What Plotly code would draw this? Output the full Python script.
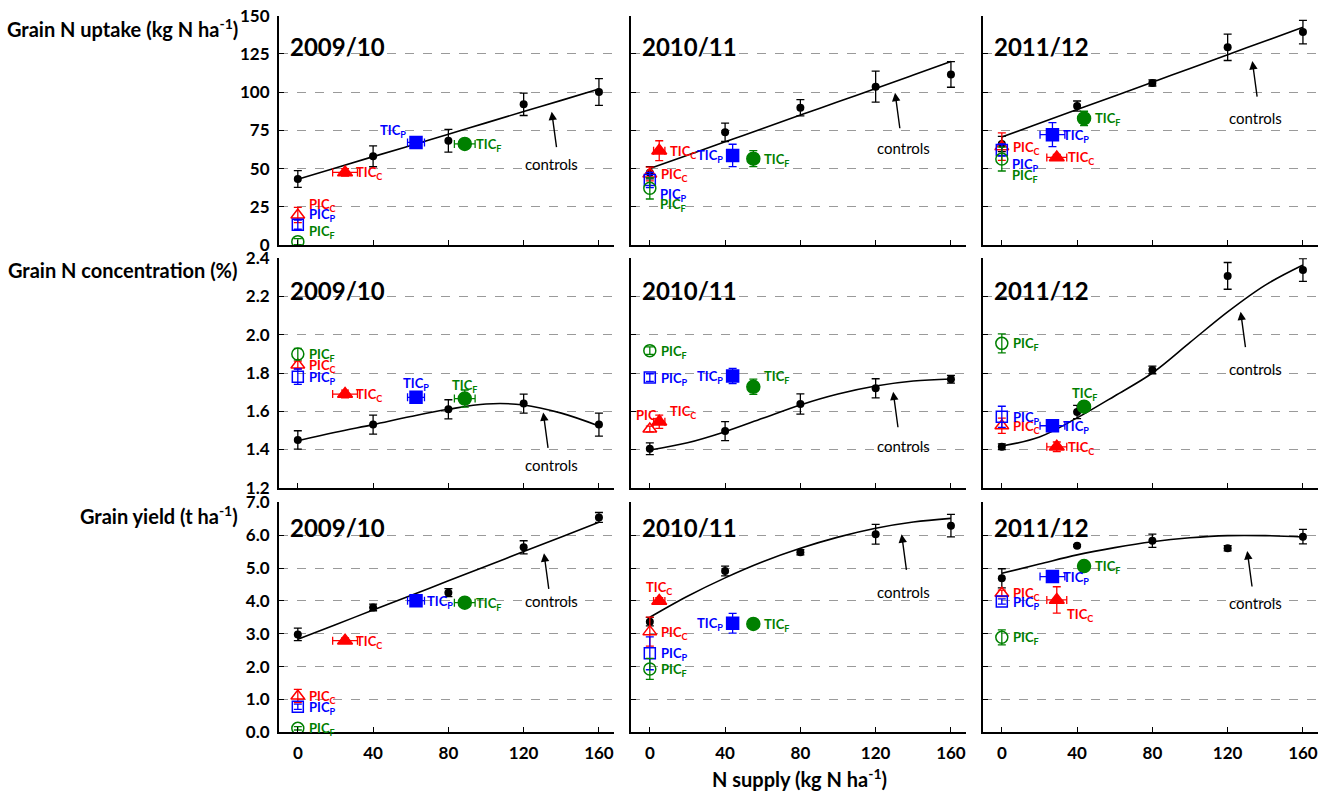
import plotly.graph_objects as go
from plotly.subplots import make_subplots

# ---------------------------------------------------------------- data
YEARS = ["2009/10", "2010/11", "2011/12"]
N_RATES = [0, 40, 80, 120, 160]
FIT_X = [0, 20, 40, 60, 80, 100, 120, 140, 160]
TREATMENTS = ["TIC<sub>C</sub>", "TIC<sub>P</sub>", "TIC<sub>F</sub>",
              "PIC<sub>C</sub>", "PIC<sub>P</sub>", "PIC<sub>F</sub>"]

# N supply of the intercrop treatments (same order as TREATMENTS)
trt_n_0910 = [25.1, 62.8, 88.7, 0, 0, 0]
trt_n_err_0910 = [6.6, 4.5, 5.5, 0, 0, 0]
trt_n_1011 = [5.0, 44.0, 55.0, 0, 0, 0]
trt_n_err_1011 = [3.0, 0, 2.0, 0, 0, 0]
trt_n_1112 = [29.2, 26.9, 43.7, 0, 0, 0]
trt_n_err_1112 = [5.3, 6.6, 1.2, 0, 0, 0]

# Grain N uptake (kg N/ha)
uptake_ctrl_0910 = [43.2, 58.0, 68.2, 92.0, 100.1]
uptake_ctrl_err_0910 = [5.5, 6.8, 7.5, 7.3, 8.7]
uptake_fit_0910 = [43.0, 50.4, 57.8, 65.1, 72.5, 79.9, 87.3, 94.6, 102.0]
uptake_trt_0910 = [47.5, 67.1, 66.1, 19.6, 13.3, 2.2]
uptake_trt_err_0910 = [2.5, 3.5, 3.0, 5.0, 3.0, 2.0]

uptake_ctrl_1011 = [47.3, 73.7, 89.8, 103.6, 111.6]
uptake_ctrl_err_1011 = [4.0, 6.0, 5.3, 10.2, 8.4]
uptake_fit_1011 = [50.0, 58.7, 67.5, 76.2, 85.0, 93.7, 102.4, 111.2, 120.0]
uptake_trt_1011 = [61.7, 58.6, 56.5, 46.5, 42.5, 37.1]
uptake_trt_err_1011 = [6.5, 7.3, 5.2, 4.5, 5.0, 7.0]

uptake_ctrl_1112 = [66.1, 90.9, 106.0, 129.3, 139.3]
uptake_ctrl_err_1112 = [5.0, 3.3, 2.0, 8.6, 7.7]
uptake_fit_1112 = [70.6, 79.6, 88.6, 97.5, 106.5, 115.5, 124.5, 133.4, 142.4]
uptake_trt_1112 = [57.3, 72.2, 82.8, 64.3, 62.1, 56.2]
uptake_trt_err_1112 = [2.0, 7.8, 4.7, 9.0, 4.0, 7.8]

# Grain N concentration (%)
conc_ctrl_0910 = [1.45, 1.53, 1.61, 1.64, 1.53]
conc_ctrl_err_0910 = [0.048, 0.05, 0.05, 0.05, 0.06]
conc_fit_0910 = [1.446, 1.49, 1.53, 1.572, 1.61, 1.638, 1.633, 1.59, 1.523]
conc_trt_0910 = [1.69, 1.673, 1.666, 1.842, 1.781, 1.899]
conc_trt_err_0910 = [0.02, 0.03, 0.045, 0.02, 0.04, 0.03]

conc_ctrl_1011 = [1.404, 1.496, 1.638, 1.72, 1.767]
conc_ctrl_err_1011 = [0.031, 0.05, 0.053, 0.05, 0.02]
conc_fit_1011 = [1.397, 1.435, 1.493, 1.563, 1.633, 1.69, 1.732, 1.758, 1.769]
conc_trt_1011 = [1.545, 1.784, 1.728, 1.507, 1.776, 1.917]
conc_trt_err_1011 = [0.035, 0.04, 0.04, 0.015, 0.02, 0.02]

conc_ctrl_1112 = [1.414, 1.596, 1.816, 2.308, 2.339]
conc_ctrl_err_1112 = [0.015, 0.035, 0.02, 0.07, 0.06]
conc_fit_1112 = [1.418, 1.465, 1.565, 1.68, 1.80, 1.96, 2.12, 2.26, 2.365]
conc_trt_1112 = [1.414, 1.524, 1.624, 1.524, 1.571, 1.955]
conc_trt_err_1112 = [0.025, 0.015, 0.02, 0.04, 0.055, 0.05]

# Grain yield (t/ha)
yield_ctrl_0910 = [2.98, 3.80, 4.25, 5.63, 6.54]
yield_ctrl_err_0910 = [0.19, 0.1, 0.12, 0.2, 0.15]
yield_fit_0910 = [2.83, 3.275, 3.72, 4.165, 4.61, 5.055, 5.5, 5.945, 6.39]
yield_trt_0910 = [2.79, 4.007, 3.946, 1.106, 0.78, 0.12]
yield_trt_err_0910 = [0.08, 0.05, 0.05, 0.2, 0.08, 0.05]

yield_ctrl_1011 = [3.368, 4.91, 5.478, 6.026, 6.29]
yield_ctrl_err_1011 = [0.13, 0.15, 0.08, 0.3, 0.34]
yield_fit_1011 = [3.50, 4.14, 4.70, 5.19, 5.60, 5.94, 6.21, 6.40, 6.51]
yield_trt_1011 = [3.997, 3.317, 3.297, 3.064, 2.404, 1.928]
yield_trt_err_1011 = [0.1, 0.3, 0.1, 0.44, 0.5, 0.32]

yield_ctrl_1112 = [4.687, 5.68, 5.83, 5.6, 5.955]
yield_ctrl_err_1112 = [0.29, 0.03, 0.2, 0.08, 0.22]
yield_fit_1112 = [4.84, 5.12, 5.40, 5.62, 5.80, 5.92, 5.985, 5.985, 5.945]
yield_trt_1112 = [4.03, 4.74, 5.06, 4.23, 3.98, 2.89]
yield_trt_err_1112 = [0.4, 0.15, 0.08, 0.1, 0.08, 0.23]

ROW_TITLES = ["Grain N uptake (kg N ha<sup>-1</sup>)",
              "Grain N concentration (%)",
              "Grain yield (t ha<sup>-1</sup>)"]
X_TITLE = "N supply (kg N ha<sup>-1</sup>)"

# ---------------------------------------------------------------- panels
TRT_N = [(trt_n_0910, trt_n_err_0910), (trt_n_1011, trt_n_err_1011),
         (trt_n_1112, trt_n_err_1112)]
PANELS = {
    (1, 1): (uptake_ctrl_0910, uptake_ctrl_err_0910, uptake_fit_0910, uptake_trt_0910, uptake_trt_err_0910),
    (1, 2): (uptake_ctrl_1011, uptake_ctrl_err_1011, uptake_fit_1011, uptake_trt_1011, uptake_trt_err_1011),
    (1, 3): (uptake_ctrl_1112, uptake_ctrl_err_1112, uptake_fit_1112, uptake_trt_1112, uptake_trt_err_1112),
    (2, 1): (conc_ctrl_0910, conc_ctrl_err_0910, conc_fit_0910, conc_trt_0910, conc_trt_err_0910),
    (2, 2): (conc_ctrl_1011, conc_ctrl_err_1011, conc_fit_1011, conc_trt_1011, conc_trt_err_1011),
    (2, 3): (conc_ctrl_1112, conc_ctrl_err_1112, conc_fit_1112, conc_trt_1112, conc_trt_err_1112),
    (3, 1): (yield_ctrl_0910, yield_ctrl_err_0910, yield_fit_0910, yield_trt_0910, yield_trt_err_0910),
    (3, 2): (yield_ctrl_1011, yield_ctrl_err_1011, yield_fit_1011, yield_trt_1011, yield_trt_err_1011),
    (3, 3): (yield_ctrl_1112, yield_ctrl_err_1112, yield_fit_1112, yield_trt_1112, yield_trt_err_1112),
}

RED, BLUE, GREEN = "#FF0000", "#0000FF", "#008000"
TRT_STYLE = [("triangle-up", RED, 13), ("square", BLUE, 12), ("circle", GREEN, 13),
             ("triangle-up-open", RED, 12), ("square-open", BLUE, 11), ("circle-open", GREEN, 12)]

# label placement relative to each marker
PLACE = {
    "r": dict(xanchor="left", xshift=9, yshift=-1),
    "l": dict(xanchor="right", xshift=-8, yshift=-1),
    "a": dict(xanchor="center", xshift=0, yshift=13),
    "ru": dict(xanchor="left", xshift=9, yshift=10),
    "lu": dict(xanchor="right", xshift=-8, yshift=11),
    "rd": dict(xanchor="left", xshift=8, yshift=-15),
    "rd2": dict(xanchor="left", xshift=8, yshift=-17),
}
LABEL_PLACE = {
    (1, 1): ["r", "lu", "r", "ru", "ru", "ru"],
    (1, 2): ["r", "l", "r", "r", "rd", "rd2"],
    (1, 3): ["r", "r", "r", "r", "rd", "rd2"],
    (2, 1): ["r", "a", "a", "r", "r", "r"],
    (2, 2): ["ru", "l", "ru", "a", "r", "r"],
    (2, 3): ["r", "r", "a", "r", "r", "r"],
    (3, 1): ["r", "r", "r", "r", "r", "r"],
    (3, 2): ["a", "l", "r", "r", "r", "r"],
    (3, 3): ["rd", "r", "r", "r", "r", "r"],
}
# arrow head (x, y) and text y for the "controls" callouts
CONTROL_NOTE = {
    (1, 1): (134.9, 87.2, 52.8), (1, 2): (130.3, 99.6, 63.2), (1, 3): (133.1, 120.3, 83.3),
    (2, 1): (130.4, 1.594, 1.318), (2, 2): (129.3, 1.702, 1.419), (2, 3): (126.9, 2.121, 1.821),
    (3, 1): (130.8, 5.447, 3.996), (3, 2): (133.8, 6.026, 4.279), (3, 3): (130.4, 5.517, 3.944),
}

W, H = 1330, 791
COL_PX = [(279, 614), (631, 966), (983, 1318)]
ROW_PX = [(15.7, 245), (258.3, 487.7), (502.3, 732.3)]
Y_RANGE = [[0, 150], [1.2, 2.4], [0, 7]]
Y_DTICK = [25, 0.2, 1]
Y_FMT = ["d", ".1f", ".1f"]
YEAR_OFFSET = [31, 32, 25]
X_RANGE = [-10, 168]
FONT = "Lato, 'Open Sans', sans-serif"

fig = make_subplots(rows=3, cols=3)

for (r, c), (ctrl, ctrl_err, fit, trt, trt_err) in PANELS.items():
    tn, tn_err = TRT_N[c - 1]
    idx = (r - 1) * 3 + c
    xref = "x" if idx == 1 else f"x{idx}"
    yref = "y" if idx == 1 else f"y{idx}"

    fig.add_trace(go.Scatter(x=FIT_X, y=fit, mode="lines",
                             line=dict(color="black", width=1.6, shape="spline", smoothing=1.0),
                             hoverinfo="skip", showlegend=False), row=r, col=c)
    fig.add_trace(go.Scatter(x=N_RATES, y=ctrl, mode="markers",
                             marker=dict(color="black", size=8, symbol="circle"),
                             error_y=dict(type="data", array=ctrl_err, color="black",
                                          thickness=1.3, width=4),
                             showlegend=False), row=r, col=c)
    for k, name in enumerate(TREATMENTS):
        sym, col, size = TRT_STYLE[k]
        ex = dict(type="data", array=[tn_err[k]], color=col, thickness=1.3, width=4,
                  visible=tn_err[k] > 0)
        fig.add_trace(go.Scatter(
            x=[tn[k]], y=[trt[k]], mode="markers",
            marker=dict(symbol=sym, size=size, color=col, line=dict(color=col, width=1.5)),
            error_y=dict(type="data", array=[trt_err[k]], color=col, thickness=1.3, width=4),
            error_x=ex, showlegend=False), row=r, col=c)
        p = PLACE[LABEL_PLACE[(r, c)][k]]
        fig.add_annotation(x=tn[k], y=trt[k], xref=xref, yref=yref, text=name,
                           showarrow=False, yanchor="middle",
                           font=dict(family=FONT, size=13, color=col, weight="bold"), **p)

    hx, hy, ty = CONTROL_NOTE[(r, c)]
    fig.add_annotation(x=hx, y=hy, xref=xref, yref=yref, text="", showarrow=True,
                       ax=5, ay=37, arrowhead=2, arrowsize=1.2, arrowwidth=1.4,
                       arrowcolor="black")
    fig.add_annotation(x=135, y=ty, xref=xref, yref=yref, text="controls", showarrow=False,
                       font=dict(family=FONT, size=15, color="black"))

    # season label inside the panel
    x0, x1 = COL_PX[c - 1]
    y0, y1 = ROW_PX[r - 1]
    fig.add_annotation(x=(x0 + 9) / W, y=1 - (y0 + YEAR_OFFSET[r - 1]) / H,
                       xref="paper", yref="paper", text=YEARS[c - 1], showarrow=False,
                       xanchor="left", yanchor="middle",
                       font=dict(family=FONT, size=24, color="black", weight="bold"))

    fig.update_xaxes(domain=[x0 / W, x1 / W], range=X_RANGE, tickvals=N_RATES,
                     ticks="inside", ticklen=5, tickwidth=1.3, tickcolor="black",
                     showline=True, linecolor="black", linewidth=2, showgrid=False,
                     zeroline=False, showticklabels=(r == 3), ticklabelstandoff=4,
                     automargin=False,
                     tickfont=dict(family=FONT, size=17, color="black", weight="bold"),
                     row=r, col=c)
    fig.update_yaxes(domain=[1 - y1 / H, 1 - y0 / H], range=Y_RANGE[r - 1],
                     dtick=Y_DTICK[r - 1], tick0=0, tickformat=Y_FMT[r - 1],
                     ticks="inside", ticklen=5, tickwidth=1.3, tickcolor="black",
                     showline=True, linecolor="black", linewidth=2,
                     showgrid=True, gridcolor="#9A9A9A", gridwidth=1, griddash="dash",
                     zeroline=False, showticklabels=(c == 1), ticklabelstandoff=4,
                     automargin=False,
                     tickfont=dict(family=FONT, size=17, color="black", weight="bold"),
                     row=r, col=c)

ROW_TITLE_Y = [28, 270, 515]
for r, title in enumerate(ROW_TITLES):
    fig.add_annotation(x=240 / W, y=1 - ROW_TITLE_Y[r] / H, xref="paper", yref="paper",
                       text=title, showarrow=False, xanchor="right", yanchor="middle",
                       font=dict(family=FONT, size=20, color="black", weight="bold"))

fig.add_annotation(x=799 / W, y=1 - 778 / H, xref="paper", yref="paper", text=X_TITLE,
                   showarrow=False, xanchor="center", yanchor="middle",
                   font=dict(family=FONT, size=20, color="black", weight="bold"))

fig.update_layout(width=W, height=H, margin=dict(l=0, r=0, t=0, b=0, autoexpand=False),
                  paper_bgcolor="white", plot_bgcolor="white",
                  font=dict(family=FONT, color="black"), showlegend=False)

fig.write_html("out.html")
